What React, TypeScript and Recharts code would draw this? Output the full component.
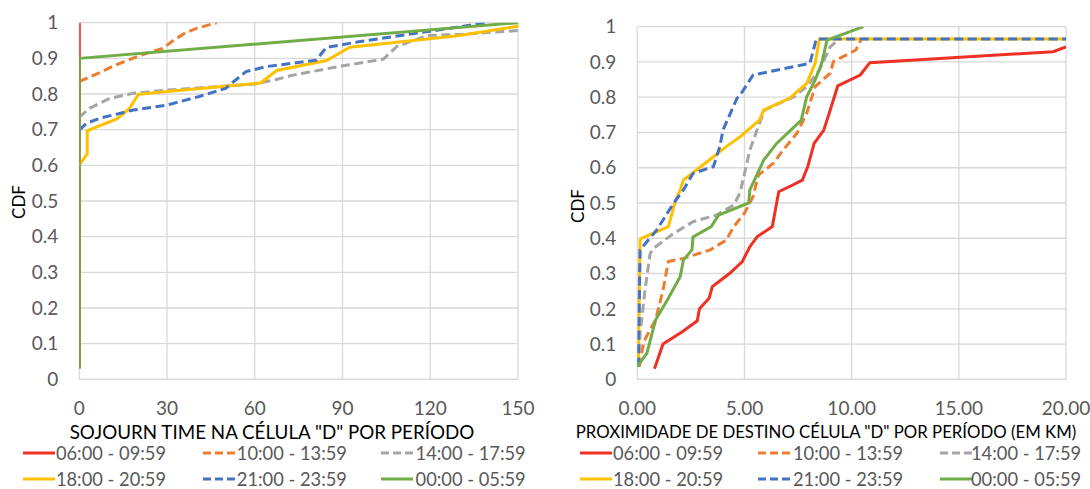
import React from 'react';
import { LineChart, Line, XAxis, YAxis, CartesianGrid } from 'recharts';

// ---------- labels ----------
const periodLabels = ['06:00 - 09:59', '10:00 - 13:59', '14:00 - 17:59', '18:00 - 20:59', '21:00 - 23:59', '00:00 - 05:59'];
const sojournTitle = 'SOJOURN TIME NA CÉLULA "D" POR PERÍODO';
const distanceTitle = 'PROXIMIDADE DE DESTINO CÉLULA "D" POR PERÍODO (EM KM)';
const yTitle = 'CDF';

// ---------- ticks ----------
const sojournTicks = [0, 30, 60, 90, 120, 150];
const distanceTicks = [0, 5, 10, 15, 20];
const cdfTicks = [0, 0.1, 0.2, 0.3, 0.4, 0.5, 0.6, 0.7, 0.8, 0.9, 1];

// ---------- left panel: sojourn time [x, cdf] ----------
const sojourn0600 = [[0, 0.03], [0, 1]];
const sojourn1000 = [[0, 0.835], [7, 0.86], [12, 0.88], [21, 0.909], [28.5, 0.928], [32.5, 0.952], [36, 0.97], [40, 0.984], [47, 1]];
const sojourn1400 = [[0, 0.735], [3.5, 0.76], [10.5, 0.788], [18.5, 0.802], [30, 0.811], [60, 0.828], [68, 0.842], [73, 0.853], [90, 0.879], [104, 0.898], [108.5, 0.933], [119, 0.964], [130, 0.967], [150, 0.978]];
const sojourn1800 = [[0, 0.601], [2.7, 0.632], [2.7, 0.697], [12.8, 0.73], [17, 0.758], [20.2, 0.799], [30, 0.807], [62, 0.831], [67.5, 0.866], [84.5, 0.894], [92.5, 0.931], [119, 0.954], [130, 0.964], [150, 0.99]];
const sojourn2100 = [[0, 0.699], [2.5, 0.718], [7, 0.732], [18.4, 0.755], [30, 0.769], [41, 0.793], [50, 0.816], [57, 0.863], [64, 0.877], [81, 0.895], [84.5, 0.931], [96, 0.947], [119, 0.975], [139.5, 1]];
const sojourn0000 = [[0, 0.03], [0, 0.9], [150, 1]];

// ---------- right panel: destination proximity (km) [x, cdf] ----------
const distance0600 = [[0.8, 0.03], [1.2, 0.1], [2.1, 0.135], [2.8, 0.166], [2.9, 0.2], [3.35, 0.23], [3.5, 0.263], [4.3, 0.3], [4.9, 0.334], [5.25, 0.376], [5.6, 0.405], [6.3, 0.433], [6.5, 0.5], [6.6, 0.532], [7.25, 0.551], [7.7, 0.565], [7.95, 0.603], [8.25, 0.669], [8.7, 0.707], [8.95, 0.754], [9.35, 0.832], [10.4, 0.863], [10.85, 0.898], [19.4, 0.929], [20, 0.943]];
const distance1000 = [[0.1, 0.036], [0.3, 0.107], [0.85, 0.168], [1.2, 0.253], [1.45, 0.334], [2.15, 0.343], [3.4, 0.367], [4.15, 0.395], [4.5, 0.433], [5.0, 0.471], [5.4, 0.518], [5.65, 0.579], [6.35, 0.613], [6.8, 0.65], [7.45, 0.698], [7.9, 0.754], [8.3, 0.83], [9.0, 0.868], [9.15, 0.901], [10.2, 0.934], [10.45, 0.965]];
const distance1400 = [[0.05, 0.036], [0.13, 0.13], [0.36, 0.253], [0.6, 0.357], [0.75, 0.371], [1.7, 0.414], [2.6, 0.447], [3.7, 0.466], [4.5, 0.494], [4.8, 0.53], [5.25, 0.65], [5.7, 0.726], [5.95, 0.764], [7.3, 0.801], [7.9, 0.83], [8.5, 0.877], [9.0, 0.943], [9.45, 0.967]];
const distance1800 = [[0.05, 0.036], [0.13, 0.395], [0.2, 0.4], [1.45, 0.433], [1.75, 0.5], [2.0, 0.537], [2.15, 0.565], [3.55, 0.631], [4.15, 0.66], [4.8, 0.688], [5.7, 0.735], [5.9, 0.764], [7.1, 0.797], [7.9, 0.839], [8.3, 0.896], [8.5, 0.965], [20, 0.965]];
const distance2100 = [[0.05, 0.036], [0.13, 0.367], [0.9, 0.423], [1.7, 0.5], [2.15, 0.537], [2.6, 0.584], [3.55, 0.603], [3.85, 0.66], [4.0, 0.707], [4.65, 0.797], [4.8, 0.806], [5.4, 0.863], [8.05, 0.896], [8.35, 0.965], [20, 0.965]];
const distance0000 = [[0, 0.036], [0.45, 0.074], [0.85, 0.168], [1.4, 0.225], [2.0, 0.291], [2.15, 0.338], [2.55, 0.367], [2.6, 0.404], [3.45, 0.433], [3.8, 0.466], [5.2, 0.5], [5.25, 0.537], [5.9, 0.622], [6.5, 0.669], [7.65, 0.735], [7.9, 0.801], [8.3, 0.849], [8.6, 0.896], [8.85, 0.962], [10.55, 1.0]];

const sojournSeries = [sojourn0600, sojourn1000, sojourn1400, sojourn1800, sojourn2100, sojourn0000];
const distanceSeries = [distance0600, distance1000, distance1400, distance1800, distance2100, distance0000];

// ---------- styles ----------
const seriesColors = ['#EE3124', '#ED7D31', '#A5A5A5', '#FFC000', '#4472C4', '#70AD47'];
const seriesDashed = [false, true, true, false, true, false];

const FONT = 'Lato, "Open Sans", sans-serif';
const GRID = '#D9D9D9';
const TICK = '#595959';

const toPoints = (arr: number[][]) => arr.map(([x, y]) => ({ x, y }));
const fmtCdf = (v: number) => String(Math.round(v * 10) / 10);

type PanelProps = {
  left: number;
  width: number;
  top: number;
  yAxisWidth: number;
  rightMargin: number;
  series: number[][][];
  xDomain: [number, number];
  xTicks: number[];
  xFmt: (v: number) => string;
};

function Panel(p: PanelProps) {
  return (
    <div style={{ position: 'absolute', left: p.left, top: 0 }}>
      <LineChart
        width={p.width}
        height={489}
        margin={{ top: p.top, right: p.rightMargin, bottom: 79.7, left: 0 }}
      >
        <CartesianGrid stroke={GRID} strokeWidth={1.3} />
        <XAxis
          type="number"
          dataKey="x"
          domain={p.xDomain}
          ticks={p.xTicks}
          tickFormatter={p.xFmt}
          height={30}
          tickSize={0}
          tickMargin={22}
          axisLine={{ stroke: GRID, strokeWidth: 1.3 }}
          tick={{ fill: TICK, fontSize: 19, fontFamily: FONT }}
          allowDataOverflow
        />
        <YAxis
          type="number"
          domain={[0, 1]}
          ticks={cdfTicks}
          tickFormatter={fmtCdf}
          width={p.yAxisWidth}
          tickSize={0}
          tickMargin={21}
          axisLine={false}
          tick={{ fill: TICK, fontSize: 19, fontFamily: FONT }}
          allowDataOverflow
        />
        {p.series.map((s, i) => (
          <Line
            key={i}
            data={toPoints(s)}
            dataKey="y"
            type="linear"
            stroke={seriesColors[i]}
            strokeWidth={3}
            strokeDasharray={seriesDashed[i] ? '9 4.5' : undefined}
            dot={false}
            activeDot={false}
            isAnimationActive={false}
          />
        ))}
      </LineChart>
    </div>
  );
}

function LegendItem({ lineX, textX, y, idx }: { lineX: number; textX: number; y: number; idx: number }) {
  return (
    <>
      <svg style={{ position: 'absolute', left: lineX, top: y - 3 }} width={32} height={6}>
        <line
          x1={0}
          y1={3}
          x2={32}
          y2={3}
          stroke={seriesColors[idx]}
          strokeWidth={3}
          strokeDasharray={seriesDashed[idx] ? '8 4' : undefined}
        />
      </svg>
      <div
        style={{
          position: 'absolute',
          left: textX,
          top: y - 10,
          height: 20,
          lineHeight: '20px',
          fontSize: 18.3,
          color: TICK,
          whiteSpace: 'nowrap',
        }}
      >
        {periodLabels[idx]}
      </div>
    </>
  );
}

function Legend({ lineXs, textXs }: { lineXs: number[]; textXs: number[] }) {
  const rows = [453.3, 478.5];
  return (
    <>
      {[0, 1, 2, 3, 4, 5].map((i) => (
        <LegendItem key={i} idx={i} lineX={lineXs[i % 3]} textX={textXs[i % 3]} y={rows[Math.floor(i / 3)]} />
      ))}
    </>
  );
}

const titleStyle: React.CSSProperties = {
  position: 'absolute',
  color: '#000',
  whiteSpace: 'nowrap',
  lineHeight: '22px',
};

export default function App() {
  return (
    <div
      style={{
        position: 'absolute',
        left: 0,
        top: 0,
        width: 1090,
        height: 489,
        background: '#fff',
        fontFamily: FONT,
        overflow: 'hidden',
      }}
    >
      <Panel
        left={0}
        width={545}
        top={22.7}
        yAxisWidth={79.3}
        rightMargin={27}
        series={sojournSeries}
        xDomain={[0, 150]}
        xTicks={sojournTicks}
        xFmt={(v) => String(v)}
      />
      <Panel
        left={545}
        width={545}
        top={26.7}
        yAxisWidth={92.3}
        rightMargin={24}
        series={distanceSeries}
        xDomain={[0, 20]}
        xTicks={distanceTicks}
        xFmt={(v) => v.toFixed(2)}
      />
      {/* y titles */}
      <div style={{ ...titleStyle, left: 19, top: 202, transform: 'translate(-50%, -50%) rotate(-90deg)', fontSize: 17 }}>{yTitle}</div>
      <div style={{ ...titleStyle, left: 577.5, top: 206, transform: 'translate(-50%, -50%) rotate(-90deg)', fontSize: 17 }}>{yTitle}</div>
      {/* x titles */}
      <div style={{ ...titleStyle, left: 272, top: 432, transform: 'translate(-50%, -50%)', fontSize: 18.8 }}>{sojournTitle}</div>
      <div style={{ ...titleStyle, left: 826, top: 432, transform: 'translate(-50%, -50%)', fontSize: 16.8 }}>{distanceTitle}</div>
      <Legend lineXs={[22.7, 202.6, 380.7]} textXs={[55.9, 236.8, 415.6]} />
      <Legend lineXs={[580, 758, 939.7]} textXs={[613, 793, 971]} />
    </div>
  );
}
